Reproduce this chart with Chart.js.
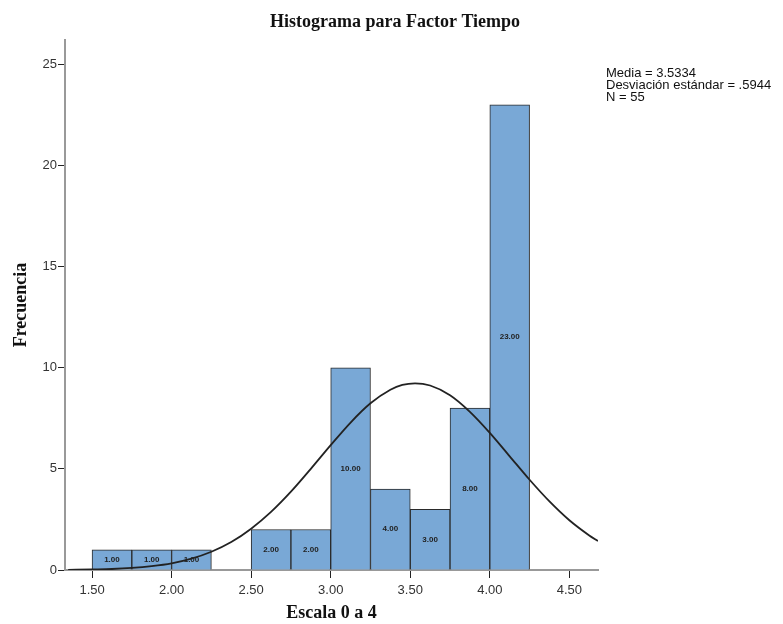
<!DOCTYPE html>
<html>
<head>
<meta charset="utf-8">
<title>Histograma para Factor Tiempo</title>
<script src="https://cdn.jsdelivr.net/npm/chart.js@4/dist/chart.umd.min.js"></script>
<style>
  html, body { margin: 0; padding: 0; background: #fff; }
  #wrap { width: 783px; height: 624px; position: relative; }
</style>
</head>
<body>
<div id="wrap"><canvas id="histChart"></canvas></div>
<script>
// bin centres (width 0.25) and frequencies
const binCenters = [1.625, 1.875, 2.125, 2.375, 2.625, 2.875, 3.125, 3.375, 3.625, 3.875, 4.125];
const binCounts  = [1, 1, 1, 0, 2, 2, 10, 4, 3, 8, 23];

// normal curve
const curveX = [1.35, 1.5, 1.625, 1.75, 1.875, 2.0, 2.125, 2.25, 2.375, 2.5, 2.625, 2.75, 2.875, 3.0,
  3.125, 3.25, 3.375, 3.45, 3.53, 3.625, 3.75, 3.875, 4.0, 4.125, 4.25, 4.375, 4.5, 4.625, 4.68];
const curveY = [0.01, 0.03, 0.05, 0.10, 0.19, 0.33, 0.56, 0.90, 1.38, 2.04, 2.87, 3.87, 5.00, 6.17,
  7.29, 8.24, 8.91, 9.15, 9.23, 9.12, 8.64, 7.82, 6.78, 5.62, 4.46, 3.39, 2.46, 1.71, 1.43];

const xTicks = [1.5, 2.0, 2.5, 3.0, 3.5, 4.0, 4.5];
const yTicks = [0, 5, 10, 15, 20, 25];
const titleText = 'Histograma para Factor Tiempo';
const statsText = ['Media = 3.5334', 'Desviación estándar = .5944', 'N = 55'];

const serif = '"Liberation Serif", "DejaVu Serif", serif';
const sans = '"Liberation Sans", Arial, sans-serif';

// labels in the middle of each bar
const barLabels = {
  id: 'barLabels',
  afterDatasetsDraw(chart) {
    const ctx = chart.ctx;
    const meta = chart.getDatasetMeta(0);
    ctx.save();
    ctx.font = 'bold 8px ' + sans;
    ctx.fillStyle = '#222';
    ctx.textAlign = 'center';
    ctx.textBaseline = 'middle';
    meta.data.forEach((bar, i) => {
      if (!binCounts[i]) return;
      ctx.fillText(binCounts[i].toFixed(2), bar.x, (bar.y + bar.base) / 2);
    });
    ctx.restore();
  }
};

// title over the whole canvas + stats at top right
const headerText = {
  id: 'headerText',
  afterDraw(chart) {
    const ctx = chart.ctx;
    ctx.save();
    ctx.fillStyle = '#111';
    ctx.textBaseline = 'middle';
    ctx.textAlign = 'center';
    ctx.font = 'bold 18px ' + serif;
    ctx.fillText(titleText, 395, 22);
    ctx.textAlign = 'left';
    ctx.font = '13px ' + sans;
    statsText.forEach((t, i) => ctx.fillText(t, 606, 73 + i * 12));
    ctx.restore();
  }
};

new Chart(document.getElementById('histChart'), {
  type: 'bar',
  data: {
    datasets: [{
      type: 'bar',
      data: binCenters.map((x, i) => ({ x: x, y: binCounts[i] })),
      backgroundColor: '#79a8d6',
      borderColor: '#2a2a2a',
      borderWidth: 1,
      barPercentage: 1,
      categoryPercentage: 1,
      order: 2
    }, {
      type: 'line',
      data: curveX.map((x, i) => ({ x: x, y: curveY[i] })),
      borderColor: '#222',
      borderWidth: 1.8,
      pointRadius: 0,
      fill: false,
      cubicInterpolationMode: 'monotone',
      order: 1
    }]
  },
  options: {
    responsive: true,
    maintainAspectRatio: false,
    animation: false,
    layout: { padding: { left: 0, right: 185, top: 40, bottom: 0 } },
    plugins: {
      legend: { display: false },
      tooltip: { enabled: false },
      title: { display: false }
    },
    scales: {
      x: {
        type: 'linear',
        min: 1.33,
        max: 4.68,
        offset: false,
        afterBuildTicks: s => { s.ticks = xTicks.map(v => ({ value: v })); },
        afterFit: s => { s.height = 54; },
        ticks: {
          color: '#333',
          font: { family: sans, size: 13 },
          padding: 5,
          callback: v => Number(v).toFixed(2)
        },
        grid: { offset: false, drawOnChartArea: false, drawTicks: true, tickLength: 8, color: '#222' },
        border: { display: true, color: '#999', width: 2 },
        title: {
          display: true,
          text: 'Escala 0 a 4',
          color: '#111',
          font: { family: serif, size: 18, weight: 'bold' },
          padding: { top: 4, bottom: 0 }
        }
      },
      y: {
        min: 0,
        max: 26.2,
        afterBuildTicks: s => { s.ticks = yTicks.map(v => ({ value: v })); },
        afterFit: s => { s.width = 65; },
        ticks: {
          color: '#333',
          font: { family: sans, size: 13 },
          padding: 1
        },
        grid: { offset: false, drawOnChartArea: false, drawTicks: true, tickLength: 7, color: '#222' },
        border: { display: true, color: '#999', width: 2 },
        title: {
          display: true,
          text: 'Frecuencia',
          color: '#111',
          font: { family: serif, size: 18, weight: 'bold' },
          padding: { top: 11, bottom: 0 }
        }
      }
    }
  },
  plugins: [barLabels, headerText]
});
</script>
</body>
</html>
